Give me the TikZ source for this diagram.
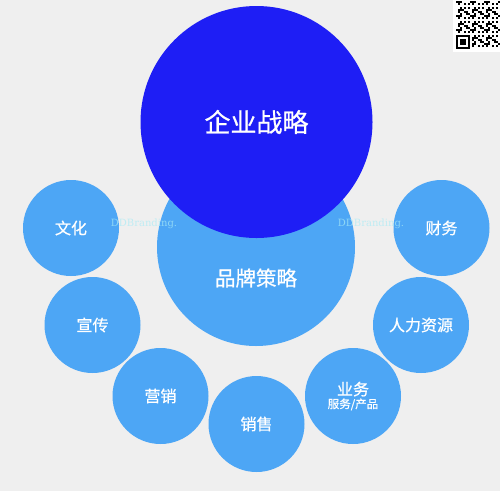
\documentclass[tikz,border=0pt]{standalone}
\usepackage{fontspec}
\newfontfamily\cjk{Noto Sans CJK SC}[FakeBold=0.7]
\newfontfamily\markfont{DejaVu Serif}
\definecolor{bggray}{RGB}{239,239,239}
\definecolor{deepblue}{RGB}{30,30,245}
\definecolor{skyblue}{RGB}{77,166,245}
\definecolor{markcyan}{RGB}{170,235,245}

\begin{document}
\begin{tikzpicture}[x=1pt,y=-1pt,
  disc/.style={circle,fill=skyblue,inner sep=0pt,outer sep=0pt,text=white},
  smalldisc/.style={disc,minimum size=96pt,font=\cjk\fontsize{16}{16}\selectfont},
  watermark/.style={text=markcyan,text opacity=0.7,font=\markfont\fontsize{10}{10}\selectfont}]
\useasboundingbox (0,0) rectangle (500,491);
\fill[bggray] (0,0) rectangle (500,491);

% brand strategy sits under the corporate strategy
\node[disc,minimum size=198pt] (brand) at (256,247) {};
\node[text=white,font=\cjk\fontsize{20.5}{20.5}\selectfont] (brandlabel) at (256,278) {品牌策略};
\node[disc,fill=deepblue,minimum size=232pt,font=\cjk\fontsize{26}{26}\selectfont] (corp) at (256.5,122) {企业战略};

\node[smalldisc] (culture) at (71,228) {文化};
\node[smalldisc] (publicity) at (92.5,325) {宣传};
\node[smalldisc] (marketing) at (160.5,396) {营销};
\node[smalldisc] (sales) at (256.5,424) {销售};
\node[smalldisc,align=center] (business) at (353,396) {业务\\[-3pt]{\fontsize{11.5}{12}\selectfont 服务/产品}};
\node[smalldisc] (hr) at (421,325) {人力资源};
\node[smalldisc] (finance) at (441.5,228) {财务};

\node[watermark] (markleft) at (144,224) {DDBranding.};
\node[watermark] (markright) at (371,224) {DDBranding.};

% qr code corner
\fill[white] (453,0) rectangle (500,52);
\foreach \i in {0,...,21}{
  \foreach \j in {0,...,23}{
    \pgfmathtruncatemacro{\qrbit}{mod(\i*\i*7+\j*\j*5+\i*\j*3+\i,7)<3}
    \ifnum\qrbit=1 \fill[black] ({456+2*\i},{1+2*\j}) rectangle +(2,2); \fi
  }
}
\fill[white] (455,33) rectangle (472,51);
\fill[black] (456,35) rectangle (470,49);
\fill[white] (458,37) rectangle (468,47);
\fill[black] (460,39) rectangle (466,45);
\end{tikzpicture}
\end{document}
